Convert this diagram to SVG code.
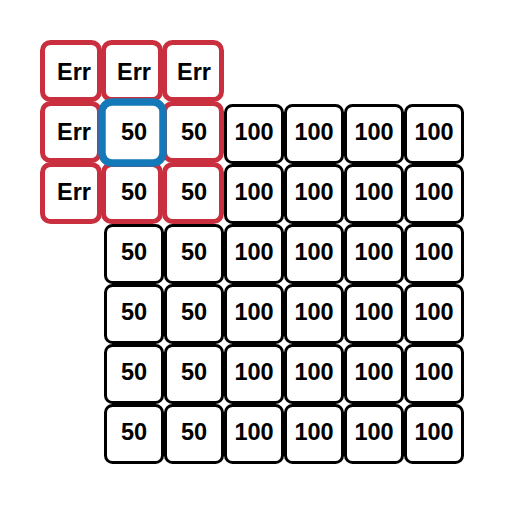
<svg xmlns="http://www.w3.org/2000/svg" width="509" height="506" viewBox="0 0 509 506">
<style>
.c{fill:#ffffff;stroke:#000000;stroke-width:3}
.r{fill:#ffffff;stroke:#c92f3e;stroke-width:5}
.b{fill:none;stroke:#1479b8;stroke-width:7.5}
text{font-family:"Liberation Sans",Arial,sans-serif;font-weight:bold;font-size:23.5px;text-anchor:middle;fill:#000}
</style>
<rect width="509" height="506" fill="#ffffff"/>
<g id="grid">
<g id="r3c1"><rect class="c" x="105.5" y="225.5" width="57" height="57" rx="7"/><text x="134" y="259.5">50</text></g>
<g id="r3c2"><rect class="c" x="165.5" y="225.5" width="57" height="57" rx="7"/><text x="194" y="259.5">50</text></g>
<g id="r4c1"><rect class="c" x="105.5" y="285.5" width="57" height="57" rx="7"/><text x="134" y="319.5">50</text></g>
<g id="r4c2"><rect class="c" x="165.5" y="285.5" width="57" height="57" rx="7"/><text x="194" y="319.5">50</text></g>
<g id="r5c1"><rect class="c" x="105.5" y="345.5" width="57" height="57" rx="7"/><text x="134" y="379.5">50</text></g>
<g id="r5c2"><rect class="c" x="165.5" y="345.5" width="57" height="57" rx="7"/><text x="194" y="379.5">50</text></g>
<g id="r6c1"><rect class="c" x="105.5" y="405.5" width="57" height="57" rx="7"/><text x="134" y="439.5">50</text></g>
<g id="r6c2"><rect class="c" x="165.5" y="405.5" width="57" height="57" rx="7"/><text x="194" y="439.5">50</text></g>
<g id="r1c3"><rect class="c" x="225.5" y="105.5" width="57" height="57" rx="7"/><text x="254" y="139.5">100</text></g>
<g id="r1c4"><rect class="c" x="285.5" y="105.5" width="57" height="57" rx="7"/><text x="314" y="139.5">100</text></g>
<g id="r1c5"><rect class="c" x="345.5" y="105.5" width="57" height="57" rx="7"/><text x="374" y="139.5">100</text></g>
<g id="r1c6"><rect class="c" x="405.5" y="105.5" width="57" height="57" rx="7"/><text x="434" y="139.5">100</text></g>
<g id="r2c3"><rect class="c" x="225.5" y="165.5" width="57" height="57" rx="7"/><text x="254" y="199.5">100</text></g>
<g id="r2c4"><rect class="c" x="285.5" y="165.5" width="57" height="57" rx="7"/><text x="314" y="199.5">100</text></g>
<g id="r2c5"><rect class="c" x="345.5" y="165.5" width="57" height="57" rx="7"/><text x="374" y="199.5">100</text></g>
<g id="r2c6"><rect class="c" x="405.5" y="165.5" width="57" height="57" rx="7"/><text x="434" y="199.5">100</text></g>
<g id="r3c3"><rect class="c" x="225.5" y="225.5" width="57" height="57" rx="7"/><text x="254" y="259.5">100</text></g>
<g id="r3c4"><rect class="c" x="285.5" y="225.5" width="57" height="57" rx="7"/><text x="314" y="259.5">100</text></g>
<g id="r3c5"><rect class="c" x="345.5" y="225.5" width="57" height="57" rx="7"/><text x="374" y="259.5">100</text></g>
<g id="r3c6"><rect class="c" x="405.5" y="225.5" width="57" height="57" rx="7"/><text x="434" y="259.5">100</text></g>
<g id="r4c3"><rect class="c" x="225.5" y="285.5" width="57" height="57" rx="7"/><text x="254" y="319.5">100</text></g>
<g id="r4c4"><rect class="c" x="285.5" y="285.5" width="57" height="57" rx="7"/><text x="314" y="319.5">100</text></g>
<g id="r4c5"><rect class="c" x="345.5" y="285.5" width="57" height="57" rx="7"/><text x="374" y="319.5">100</text></g>
<g id="r4c6"><rect class="c" x="405.5" y="285.5" width="57" height="57" rx="7"/><text x="434" y="319.5">100</text></g>
<g id="r5c3"><rect class="c" x="225.5" y="345.5" width="57" height="57" rx="7"/><text x="254" y="379.5">100</text></g>
<g id="r5c4"><rect class="c" x="285.5" y="345.5" width="57" height="57" rx="7"/><text x="314" y="379.5">100</text></g>
<g id="r5c5"><rect class="c" x="345.5" y="345.5" width="57" height="57" rx="7"/><text x="374" y="379.5">100</text></g>
<g id="r5c6"><rect class="c" x="405.5" y="345.5" width="57" height="57" rx="7"/><text x="434" y="379.5">100</text></g>
<g id="r6c3"><rect class="c" x="225.5" y="405.5" width="57" height="57" rx="7"/><text x="254" y="439.5">100</text></g>
<g id="r6c4"><rect class="c" x="285.5" y="405.5" width="57" height="57" rx="7"/><text x="314" y="439.5">100</text></g>
<g id="r6c5"><rect class="c" x="345.5" y="405.5" width="57" height="57" rx="7"/><text x="374" y="439.5">100</text></g>
<g id="r6c6"><rect class="c" x="405.5" y="405.5" width="57" height="57" rx="7"/><text x="434" y="439.5">100</text></g>
<g id="r0c0"><rect class="r" x="42.5" y="42.5" width="57" height="57" rx="8"/><text x="74" y="80">Err</text></g>
<g id="r0c1"><rect class="r" x="103.5" y="42.5" width="57" height="57" rx="8"/><text x="134" y="80">Err</text></g>
<g id="r0c2"><rect class="r" x="164.5" y="42.5" width="57" height="57" rx="8"/><text x="194" y="80">Err</text></g>
<g id="r1c0"><rect class="r" x="42.5" y="103.5" width="57" height="57" rx="8"/><text x="74" y="140">Err</text></g>
<g id="r1c2"><rect class="r" x="164.5" y="103.5" width="57" height="57" rx="8"/><text x="194" y="140">50</text></g>
<g id="r2c0"><rect class="r" x="42.5" y="164.5" width="57" height="57" rx="8"/><text x="74" y="200">Err</text></g>
<g id="r2c1"><rect class="r" x="103.5" y="164.5" width="57" height="57" rx="8"/><text x="134" y="200">50</text></g>
<g id="r2c2"><rect class="r" x="164.5" y="164.5" width="57" height="57" rx="8"/><text x="194" y="200">50</text></g>
<g id="r1c1"><rect fill="#ffffff" x="102" y="102" width="61" height="61" rx="10"/><rect class="b" x="102" y="102" width="61" height="61" rx="10"/><text x="134" y="140">50</text></g>
</g>
<g id="connectors"/>
</svg>
